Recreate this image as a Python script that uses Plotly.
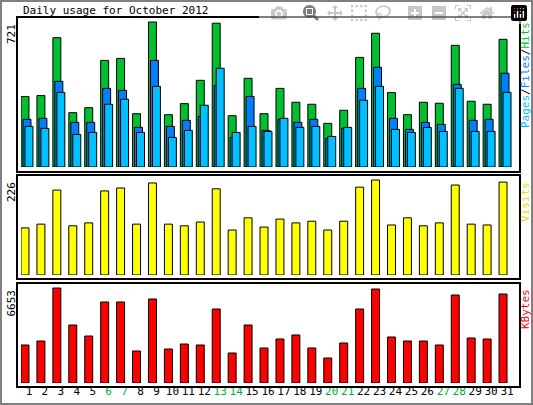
import plotly.graph_objects as go

days = list(range(1, 32))
weekend = [6, 7, 13, 14, 20, 21, 27, 28]
hits = [350, 355, 643, 270, 295, 530, 540, 265, 721, 260, 315, 431, 715, 255, 441, 265,
        391, 322, 312, 217, 282, 545, 665, 370, 260, 322, 317, 605, 327, 312, 635]
files = [237, 242, 426, 222, 222, 391, 381, 197, 530, 202, 232, 252, 406, 147, 351, 182,
         237, 222, 237, 143, 192, 391, 496, 242, 187, 222, 212, 411, 232, 237, 466]
pages = [202, 192, 371, 162, 172, 312, 337, 172, 401, 147, 182, 307, 491, 172, 202, 177,
         242, 197, 202, 152, 197, 332, 401, 187, 172, 197, 177, 391, 177, 177, 371]
visits = [112, 121, 202, 117, 124, 200, 207, 121, 219, 121, 117, 126, 205, 107, 136, 114,
          133, 124, 128, 107, 128, 209, 226, 119, 136, 117, 124, 214, 121, 119, 221]
kbytes = [2661, 2941, 6653, 4062, 3291, 5673, 5673, 2241, 5883, 2381, 2731, 2661, 5182, 2101, 4062, 2451,
          3081, 3362, 2451, 1751, 2801, 5182, 6583, 3221, 2941, 2941, 2661, 6163, 3151, 3081, 6233]

W, H = 533, 405
FONT = "DejaVu Sans Mono"

def px(x):
    return x / W

def py(y):
    return 1 - y / H

fig = go.Figure()
line = dict(color="black", width=1)
fig.add_trace(go.Bar(x=days, y=hits, marker=dict(color="#00C030", line=line), width=0.5, offset=-0.5, xaxis="x", yaxis="y"))
fig.add_trace(go.Bar(x=days, y=files, marker=dict(color="#0080FF", line=line), width=0.5, offset=-0.375, xaxis="x", yaxis="y"))
fig.add_trace(go.Bar(x=days, y=pages, marker=dict(color="#00C0FF", line=line), width=0.5, offset=-0.25, xaxis="x", yaxis="y"))
fig.add_trace(go.Bar(x=days, y=visits, marker=dict(color="#FFFF00", line=line), width=0.5, offset=-0.5, xaxis="x2", yaxis="y2"))
fig.add_trace(go.Bar(x=days, y=kbytes, marker=dict(color="#FF0000", line=line), width=0.5, offset=-0.5, xaxis="x3", yaxis="y3"))

xdom = [px(21), px(515)]
ticktext = ['<span style="color:#00B030">%d</span>' % d if d in weekend else str(d) for d in days]
common_x = dict(range=[0.5, 31.5], domain=xdom, showgrid=False, zeroline=False, showline=False, fixedrange=True)
common_y = dict(showgrid=False, zeroline=False, showline=False, showticklabels=False, ticks="")
fig.update_layout(
    width=W, height=H, margin=dict(l=0, r=0, t=0, b=0),
    paper_bgcolor="white", plot_bgcolor="white", showlegend=False, barmode="overlay",
    font=dict(family=FONT, size=11, color="black"),
    xaxis=dict(common_x, showticklabels=False, anchor="y"),
    xaxis2=dict(common_x, showticklabels=False, anchor="y2"),
    xaxis3=dict(common_x, tickvals=days, ticktext=ticktext, ticks="", ticklen=0, anchor="y3"),
    yaxis=dict(common_y, domain=[py(167), py(20)], range=[0, 721 * 147 / 145]),
    yaxis2=dict(common_y, domain=[py(275), py(178)], range=[0, 226 * 97 / 95]),
    yaxis3=dict(common_y, domain=[py(383), py(286)], range=[0, 6653 * 97 / 95]),
)

shapes = [dict(type="rect", xref="paper", yref="paper", x0=px(1), x1=px(532), y0=py(404), y1=py(1),
               line=dict(color="#808080", width=2))]
for y0, y1 in [(17, 172), (175, 279), (283, 387)]:
    shapes.append(dict(type="rect", xref="paper", yref="paper", x0=px(17), x1=px(520), y0=py(y1), y1=py(y0),
                       line=dict(color="black", width=2)))
fig.update_layout(shapes=shapes)

ann = [dict(text="Daily usage for October 2012", x=px(21), y=py(10), xanchor="left", yanchor="middle")]
for txt, y in [("721", 22), ("226", 180), ("6653", 288)]:
    ann.append(dict(text=txt, x=px(11), y=py(y), textangle=-90, xanchor="center", yanchor="top"))
ann.append(dict(text='<span style="color:#00C0FF">Pages</span>/<span style="color:#0080FF">Files</span>/<span style="color:#00C030">Hits</span>',
                x=px(525), y=py(20), textangle=-90, xanchor="center", yanchor="top"))
ann.append(dict(text='<span style="color:#E0E000">Visits</span>', x=px(525), y=py(180), textangle=-90, xanchor="center", yanchor="top"))
ann.append(dict(text='<span style="color:#FF0000">KBytes</span>', x=px(525), y=py(287), textangle=-90, xanchor="center", yanchor="top"))
for a in ann:
    a.update(xref="paper", yref="paper", showarrow=False)
fig.update_layout(annotations=ann)

fig.write_html("out.html", post_script="document.body.style.margin='0';document.body.style.overflow='hidden';")
